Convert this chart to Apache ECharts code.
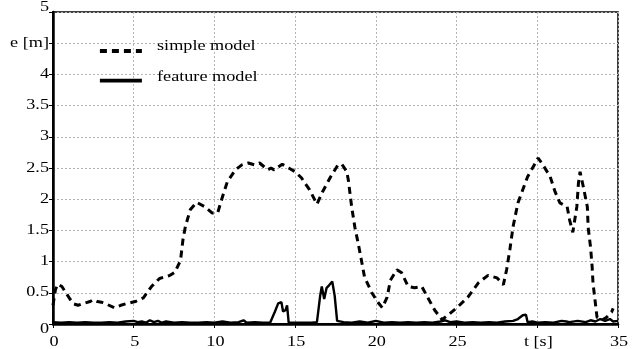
<!DOCTYPE html>
<html><head><meta charset="utf-8">
<script src="https://cdn.jsdelivr.net/npm/echarts@6/dist/echarts.min.js"></script>
<style>html,body{margin:0;padding:0;background:#fff}#c{width:635px;height:349px}</style>
</head><body><div id="c"></div>
<script>
const xTicks = [0, 5, 10, 15, 20, 25, 30, 35];
const xTickLabels = ['0', '5', '10', '15', '20', '25', 't [s]', '35'];
const yTicks = [0, 0.5, 1, 1.5, 2, 2.5, 3, 3.5, 4, 4.5, 5];
const yTickLabels = ['0', '0.5', '1', '1.5', '2', '2.5', '3', '3.5', '4', 'e [m]', '5'];
const seriesNames = ['simple model', 'feature model'];

const simpleModel = [[0,0.3],[0.15,0.55],[0.3,0.64],[0.55,0.6],[0.8,0.5],[1.05,0.4],[1.3,0.32],[1.55,0.3],[1.9,0.33],[2.3,0.36],[2.5,0.39],[2.75,0.36],[3.0,0.35],[3.3,0.32],[3.8,0.26],[4.2,0.3],[4.6,0.33],[5.1,0.36],[5.6,0.42],[6.1,0.6],[6.6,0.73],[7.25,0.78],[7.55,0.83],[7.9,1.02],[8.05,1.35],[8.2,1.56],[8.5,1.83],[8.9,1.95],[9.4,1.88],[9.85,1.78],[10.2,1.78],[10.5,2.04],[10.8,2.28],[11.3,2.47],[11.7,2.55],[12.1,2.58],[12.5,2.55],[12.8,2.58],[13.3,2.47],[13.5,2.5],[13.7,2.47],[14.2,2.56],[14.6,2.5],[15.0,2.44],[15.4,2.34],[15.6,2.26],[15.9,2.15],[16.35,1.92],[16.7,2.12],[17.2,2.36],[17.65,2.55],[17.9,2.56],[18.2,2.44],[18.3,2.3],[18.5,1.88],[18.7,1.55],[18.9,1.3],[19.1,1.03],[19.3,0.75],[19.75,0.5],[20.15,0.34],[20.4,0.26],[20.7,0.43],[20.9,0.7],[21.3,0.87],[21.6,0.82],[22.0,0.6],[22.4,0.58],[22.85,0.6],[23.2,0.43],[23.65,0.22],[24.1,0.07],[24.5,0.15],[25.1,0.28],[25.7,0.43],[26.35,0.66],[26.95,0.78],[27.5,0.74],[27.9,0.63],[28.1,0.87],[28.3,1.19],[28.5,1.56],[28.8,1.94],[29.1,2.15],[29.4,2.36],[29.75,2.52],[30.05,2.66],[30.35,2.55],[30.8,2.36],[31.1,2.12],[31.4,1.94],[31.85,1.88],[32.0,1.67],[32.2,1.47],[32.45,1.88],[32.55,2.26],[32.65,2.44],[32.85,2.2],[33.1,1.88],[33.15,1.55],[33.3,1.23],[33.4,0.91],[33.45,0.66],[33.6,0.33],[33.7,0.11],[34.0,0.06],[34.3,0.11],[34.6,0.19],[34.7,0.25]];

const featureModel = [[0,0.03],[0.5,0.02],[1,0.03],[1.5,0.02],[2,0.03],[2.5,0.02],[3,0.02],[3.5,0.03],[4,0.02],[4.5,0.04],[5,0.05],[5.25,0.03],[5.5,0.04],[5.75,0.02],[6,0.06],[6.25,0.03],[6.5,0.05],[6.75,0.02],[7,0.04],[7.5,0.02],[8,0.03],[8.5,0.02],[9,0.02],[9.5,0.03],[10,0.02],[10.5,0.04],[11,0.02],[11.5,0.03],[11.8,0.06],[12,0.02],[12.5,0.03],[13,0.02],[13.45,0.02],[13.75,0.2],[13.95,0.33],[14.15,0.35],[14.25,0.2],[14.4,0.22],[14.5,0.3],[14.6,0.02],[15,0.02],[15.5,0.02],[16,0.02],[16.35,0.03],[16.55,0.45],[16.65,0.6],[16.8,0.4],[16.95,0.58],[17.1,0.62],[17.3,0.68],[17.45,0.45],[17.6,0.05],[18,0.03],[18.5,0.02],[19,0.04],[19.5,0.02],[20,0.05],[20.5,0.02],[21,0.03],[21.5,0.02],[22,0.03],[22.5,0.02],[23,0.03],[23.5,0.02],[24,0.04],[24.3,0.06],[24.6,0.03],[25,0.04],[25.5,0.02],[26,0.03],[26.5,0.02],[27,0.03],[27.5,0.02],[28,0.04],[28.5,0.05],[28.8,0.08],[29.1,0.14],[29.3,0.15],[29.4,0.03],[29.7,0.04],[30,0.02],[30.5,0.03],[31,0.02],[31.5,0.05],[31.8,0.04],[32,0.03],[32.5,0.05],[33,0.03],[33.3,0.06],[33.6,0.04],[33.9,0.08],[34.2,0.05],[34.5,0.08],[34.7,0.04],[35,0.05]];

const FONT = '14px "Liberation Serif", serif';
const SX = 1.3; // horizontal stretch of the reference lettering
const chart = echarts.init(document.getElementById('c'), null, {renderer: 'canvas'});
const gridLine = {show: true, lineStyle: {color: '#b4b4b4', width: 1, type: [2, 2]}};
const option = {
  animation: false,
  backgroundColor: '#fff',
  grid: {left: 53, right: 17, top: 12, bottom: 25, show: true, borderColor: '#000', borderWidth: 1.5, backgroundColor: 'transparent'},
  legend: {
    orient: 'vertical', left: 93, top: 39, itemGap: 17, itemWidth: 42, itemHeight: 14,
    data: seriesNames, selectedMode: false,
    itemStyle: {opacity: 0},
    lineStyle: {width: 3.8},
    formatter: () => '',
    textStyle: {fontSize: 1}
  },
  xAxis: [{
    type: 'value', min: 0, max: 35, interval: 5,
    axisLine: {show: true, onZero: false, lineStyle: {color: '#000', width: 2.5}},
    axisTick: {show: false}, splitLine: gridLine, axisLabel: {show: false}
  }, {
    type: 'value', position: 'top', min: 0, max: 35, interval: 5,
    axisLine: {show: true, lineStyle: {color: '#000', width: 2}},
    axisTick: {show: true, inside: true, length: 4, lineStyle: {color: '#000', width: 1}},
    axisLabel: {show: false}, splitLine: {show: false}
  }],
  yAxis: [{
    type: 'value', min: 0, max: 5, interval: 0.5,
    axisLine: {show: true, onZero: false, lineStyle: {color: '#000', width: 2.5}},
    axisTick: {show: false}, splitLine: gridLine, axisLabel: {show: false}
  }, {
    type: 'value', position: 'right', min: 0, max: 5, interval: 0.5,
    axisLine: {show: true, lineStyle: {color: '#000', width: 2}},
    axisTick: {show: true, inside: true, length: 4, lineStyle: {color: '#000', width: 1}},
    axisLabel: {show: false}, splitLine: {show: false}
  }],
  series: [{
    name: seriesNames[0], type: 'line', data: simpleModel, symbol: 'circle', showSymbol: false,
    lineStyle: {color: '#000', width: 3, type: [7, 5]}, itemStyle: {color: '#000'}
  }, {
    name: seriesNames[1], type: 'line', data: featureModel, symbol: 'circle', showSymbol: false,
    lineStyle: {color: '#000', width: 2.4, type: 'solid'}, itemStyle: {color: '#000'}
  }]
};
chart.setOption(option);

function txt(x, y, s, align) {
  return {type: 'text', x: x, y: y, scaleX: SX, silent: true,
    style: {text: s, font: FONT, fill: '#000', align: align, textAlign: align,
      verticalAlign: 'middle', textVerticalAlign: 'middle'}};
}
const els = [];
yTicks.forEach((v, i) => {
  const p = chart.convertToPixel({xAxisIndex: 0, yAxisIndex: 0}, [0, v]);
  const nudge = i === 0 ? 5 : (i === yTicks.length - 1 ? -5 : 0);
  els.push(txt(p[0] - 4, p[1] + nudge, yTickLabels[i], 'right'));
});
xTicks.forEach((v, i) => {
  const p = chart.convertToPixel({xAxisIndex: 0, yAxisIndex: 0}, [v, 0]);
  els.push(txt(p[0] + 1, p[1] + 18, xTickLabels[i], 'center'));
});
els.push(txt(157, 46, seriesNames[0], 'left'));
els.push(txt(157, 77, seriesNames[1], 'left'));
chart.setOption({graphic: {elements: els}});
</script></body></html>
